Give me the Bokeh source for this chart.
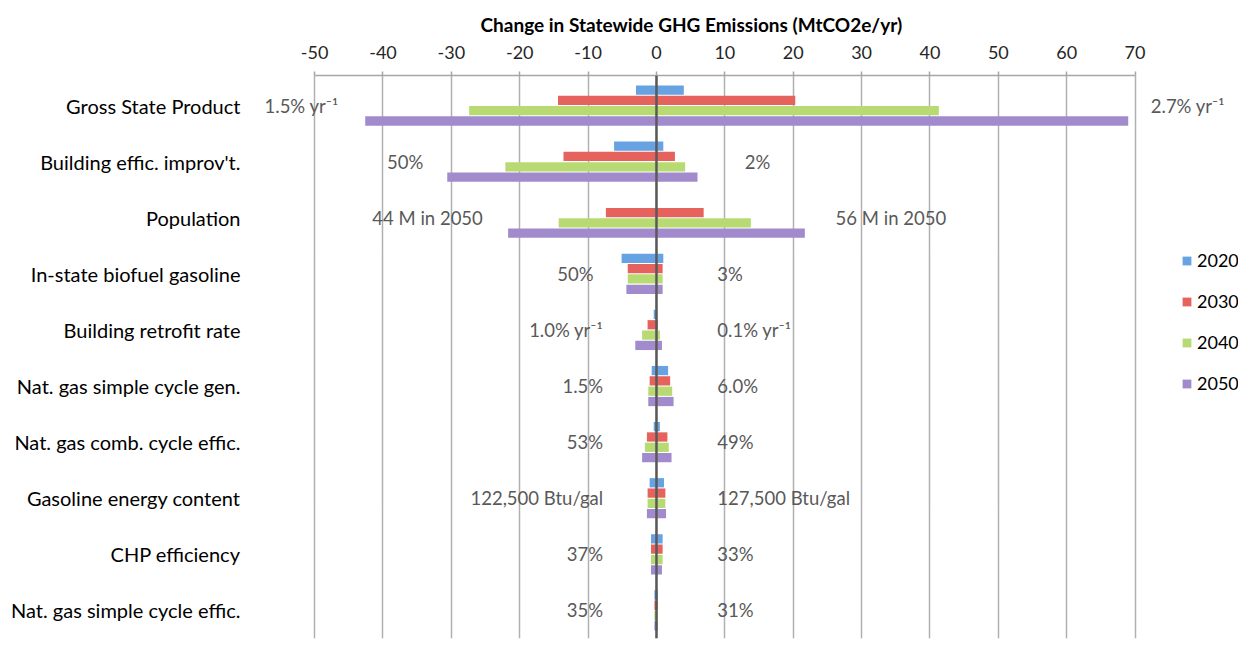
from bokeh.plotting import figure
from bokeh.models import (Range1d, FixedTicker, Span, Legend, LegendItem,
                          ColumnDataSource)
from bokeh.core.properties import value
from bokeh.embed import file_html
from bokeh.resources import INLINE

# ---------------- data ----------------
categories = ["Gross State Product", "Building effic. improv't.", "Population",
              "In-state biofuel gasoline", "Building retrofit rate",
              "Nat. gas simple cycle gen.", "Nat. gas comb. cycle effic.",
              "Gasoline energy content", "CHP efficiency",
              "Nat. gas simple cycle effic."]
years = ["2020", "2030", "2040", "2050"]

low_2020 = [-3.0, -6.2, 0.0, -5.1, -0.4, -0.7, -0.4, -1.0, -0.8, -0.3]
high_2020 = [4.0, 1.0, 0.0, 1.0, 0.1, 1.7, 0.5, 1.1, 0.9, 0.2]
low_2030 = [-14.4, -13.6, -7.4, -4.2, -1.3, -1.0, -1.4, -1.3, -0.8, -0.3]
high_2030 = [20.3, 2.7, 6.9, 0.9, 0.2, 2.0, 1.6, 1.3, 0.9, 0.2]
low_2040 = [-27.4, -22.1, -14.3, -4.2, -2.1, -1.2, -1.7, -1.3, -0.8, -0.3]
high_2040 = [41.3, 4.2, 13.8, 0.9, 0.5, 2.3, 1.8, 1.3, 0.9, 0.2]
low_2050 = [-42.6, -30.6, -21.7, -4.4, -3.1, -1.2, -2.1, -1.4, -0.8, -0.3]
high_2050 = [69.0, 6.0, 21.7, 0.9, 0.8, 2.5, 2.2, 1.4, 0.8, 0.2]

low_labels = ["1.5% yr\u207b\u00b9", "50%", "44 M in 2050", "50%", "1.0% yr\u207b\u00b9",
              "1.5%", "53%", "122,500 Btu/gal", "37%", "35%"]
high_labels = ["2.7% yr\u207b\u00b9", "2%", "56 M in 2050", "3%", "0.1% yr\u207b\u00b9",
               "6.0%", "49%", "127,500 Btu/gal", "33%", "31%"]

x_ticks = [-50, -40, -30, -20, -10, 0, 10, 20, 30, 40, 50, 60, 70]
x_tick_labels = ["-50", "-40", "-30", "-20", "-10", "0", "10", "20", "30",
                 "40", "50", "60", "70"]

# label anchor positions (data units, as placed in the original)
low_label_anchor = [-46.5, -34.1, -25.4, -9.2, -7.8, -7.8, -7.8, -7.8, -7.8, -7.8]
high_label_anchor = [72.3, 12.9, 26.2, 8.9, 8.9, 8.9, 8.9, 8.9, 8.9, 8.9]

lows = [low_2020, low_2030, low_2040, low_2050]
highs = [high_2020, high_2030, high_2040, high_2050]
colors = ["#67a2e2", "#e5625d", "#b8da72", "#a18bcc"]

FONT = "Lato"

p = figure(width=1242, height=645, output_backend="svg", toolbar_location=None,
           x_axis_location="above",
           x_range=Range1d(-59.38, 85.13), y_range=Range1d(9.5, -0.535),
           min_border_left=250, min_border_right=4, min_border_top=75,
           min_border_bottom=7)
p.outline_line_color = None
p.background_fill_color = "white"
p.border_fill_color = "white"

# title
p.title.text = "Change in Statewide GHG Emissions (MtCO2e/yr)"
p.title.align = "left"
p.title.offset = 230
p.title.text_font = FONT
p.title.text_font_size = "19px"
p.title.text_font_style = "bold"
p.title.text_color = "black"
p.title.standoff = 14

# x axis (top)
xa = p.xaxis[0]
xa.ticker = FixedTicker(ticks=x_ticks)
xa.major_label_overrides = {t: s for t, s in zip(x_ticks, x_tick_labels)}
xa.bounds = (-50, 70)
xa.axis_line_color = "#a6a6a6"
xa.axis_line_width = 1.5
xa.major_tick_out = 4
xa.major_tick_in = 0
xa.major_tick_line_color = "#a6a6a6"
xa.major_tick_line_width = 1.5
xa.minor_tick_line_color = None
xa.major_label_standoff = 13
xa.major_label_text_font = FONT
xa.major_label_text_font_size = "18px"
xa.major_label_text_color = "#262626"

p.xgrid.grid_line_color = "#b0b0b0"
p.xgrid.grid_line_width = 1.5
p.ygrid.grid_line_color = None

# y axis (categories)
ya = p.yaxis[0]
ya.ticker = FixedTicker(ticks=list(range(len(categories))))
ya.major_label_overrides = {i: c for i, c in enumerate(categories)}
ya.axis_line_color = None
ya.major_tick_line_color = None
ya.minor_tick_line_color = None
ya.major_tick_out = 0
ya.major_tick_in = 0
ya.major_label_standoff = 10
ya.major_label_text_font = FONT
ya.major_label_text_font_size = "20px"
ya.major_label_text_color = "black"

# bars
bar_step = 0.184
bar_h = 0.165
renderers = []
for k, yr in enumerate(years):
    src = ColumnDataSource(dict(
        y=[i + (k - 1.5) * bar_step for i in range(len(categories))],
        left=lows[k], right=highs[k]))
    r = p.hbar(y="y", left="left", right="right", height=bar_h, source=src,
               fill_color=colors[k], line_color=None)
    renderers.append(r)

# zero line
p.add_layout(Span(location=0, dimension="height", line_color="#595959",
                  line_width=2.5))

# annotation texts
cy = list(range(len(categories)))
lsrc = ColumnDataSource(dict(x=low_label_anchor, y=cy, t=low_labels))
hsrc = ColumnDataSource(dict(x=high_label_anchor, y=cy, t=high_labels))
p.text(x="x", y="y", text="t", source=lsrc, text_align="right",
       text_baseline="middle", text_font=value(FONT), text_font_size="18.5px",
       text_color="#595959")
p.text(x="x", y="y", text="t", source=hsrc, text_align="left",
       text_baseline="middle", text_font=value(FONT), text_font_size="18.5px",
       text_color="#595959")

# legend
legend = Legend(items=[LegendItem(label=yr, renderers=[r])
                       for yr, r in zip(years, renderers)],
                location=(931, 244), orientation="vertical",
                glyph_width=11, glyph_height=11, label_standoff=5,
                label_height=20, spacing=19, padding=0, margin=0,
                border_line_color=None, background_fill_alpha=0,
                label_text_font=FONT, label_text_font_size="18px",
                label_text_color="black")
p.add_layout(legend)

open("out.html", "w").write(file_html(p, INLINE))
